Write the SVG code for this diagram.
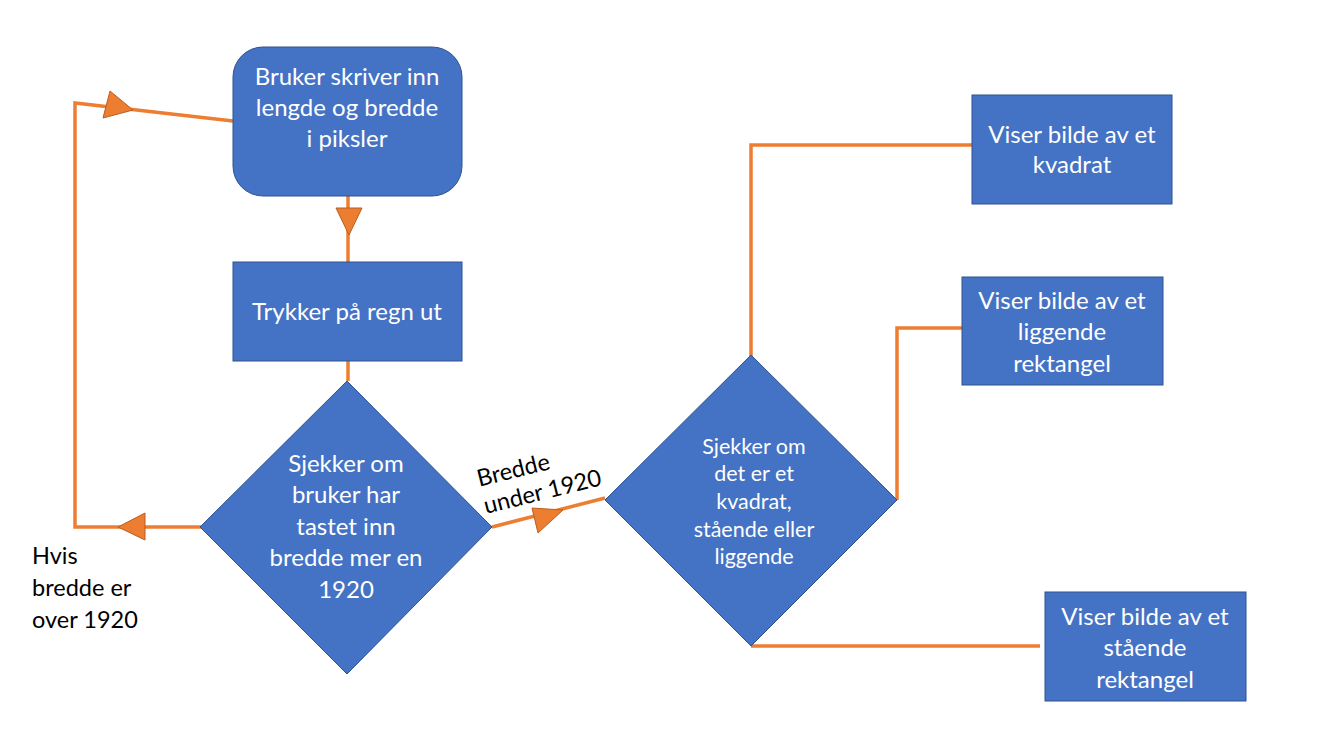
<svg xmlns="http://www.w3.org/2000/svg" width="1335" height="746" viewBox="0 0 1335 746">
<style>
.node{fill:#4472C4;stroke:#2F528F;stroke-width:1}
.t{font-family:Lato,"Liberation Sans",sans-serif;font-size:24px;fill:#fff;text-anchor:middle}
.ts{font-family:Lato,"Liberation Sans",sans-serif;font-size:21.5px;fill:#fff;text-anchor:middle}
.lbl{font-family:Lato,"Liberation Sans",sans-serif;font-size:23.5px;fill:#000}
.c{fill:none;stroke:#ED7D31;stroke-width:3.5}
.ah{fill:#ED7D31;stroke:#B85F22;stroke-width:1}
</style>
<rect width="1335" height="746" fill="#fff"/>
<g id="connectors">
<polyline class="c" points="233,121 75,103 75,527 208,527"/>
<line class="c" x1="348" y1="196" x2="348" y2="262"/>
<line class="c" x1="348" y1="361" x2="348" y2="381"/>
<line class="c" x1="492" y1="527" x2="605" y2="498"/>
<polyline class="c" points="751,356 751,145 972,145"/>
<polyline class="c" points="897,500 897,328 962,328"/>
<polyline class="c" points="751,646 1040,646"/>
<polygon class="ah" points="110,91 103,118 133,110"/>
<polygon class="ah" points="336,208 362,208 349,235"/>
<polygon class="ah" points="145,513 145,540 118,527"/>
<polygon class="ah" points="532,508 538,533 563,510"/>
</g>
<g id="n1">
<rect class="node" x="233" y="47" width="229" height="149" rx="30"/>
<text class="t" x="347" y="85">Bruker skriver inn</text>
<text class="t" x="347" y="116">lengde og bredde</text>
<text class="t" x="347" y="147">i piksler</text>
</g>
<g id="n2">
<rect class="node" x="233" y="262" width="229" height="99"/>
<text class="t" x="347" y="320">Trykker på regn ut</text>
</g>
<g id="n3">
<polygon class="node" points="347,381 492,527 347,674 200,527"/>
<text class="t" x="346" y="472">Sjekker om</text>
<text class="t" x="346" y="503">bruker har</text>
<text class="t" x="346" y="535">tastet inn</text>
<text class="t" x="346" y="566">bredde mer en</text>
<text class="t" x="346" y="598">1920</text>
</g>
<g id="n4">
<polygon class="node" points="751,355 897,500 751,646 605,500"/>
<text class="ts" x="754" y="454">Sjekker om</text>
<text class="ts" x="754" y="481">det er et</text>
<text class="ts" x="754" y="509">kvadrat,</text>
<text class="ts" x="754" y="537">stående eller</text>
<text class="ts" x="754" y="564">liggende</text>
</g>
<g id="n5">
<rect class="node" x="972" y="95" width="200" height="109"/>
<text class="t" x="1072" y="143">Viser bilde av et</text>
<text class="t" x="1072" y="173">kvadrat</text>
</g>
<g id="n6">
<rect class="node" x="962" y="277" width="201" height="108"/>
<text class="t" x="1062" y="309">Viser bilde av et</text>
<text class="t" x="1062" y="340">liggende</text>
<text class="t" x="1062" y="372">rektangel</text>
</g>
<g id="n7">
<rect class="node" x="1045" y="592" width="201" height="109"/>
<text class="t" x="1145" y="625">Viser bilde av et</text>
<text class="t" x="1145" y="656">stående</text>
<text class="t" x="1145" y="688">rektangel</text>
</g>
<g id="labels">
<text class="lbl" x="32" y="564">Hvis</text>
<text class="lbl" x="32" y="596">bredde er</text>
<text class="lbl" x="32" y="628">over 1920</text>
<g transform="translate(486,514) rotate(-14)">
<text class="lbl" x="0" y="-28">Bredde</text>
<text class="lbl" x="0" y="0">under 1920</text>
</g>
</g>
</svg>
